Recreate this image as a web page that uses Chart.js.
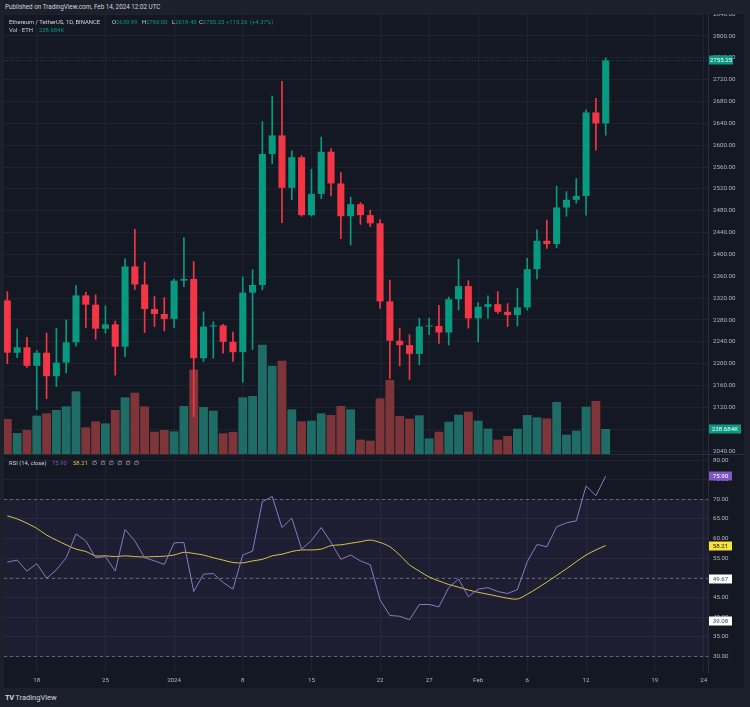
<!DOCTYPE html>
<html>
<head>
<meta charset="utf-8">
<script src="https://cdn.jsdelivr.net/npm/chart.js@4.4.1/dist/chart.umd.min.js"></script>
<style>
  html, body { margin: 0; padding: 0; width: 750px; height: 707px; overflow: hidden; background: #1c202b; font-family: Roboto, "DejaVu Sans", sans-serif; }
  #frame { position: absolute; left: 4px; top: 14px; width: 740px; height: 674px; background: #141823; }
  #priceChart { position: absolute; left: 0; top: 0; }
  #rsiChart { position: absolute; left: 0; top: 440px; }
  .t { position: absolute; white-space: nowrap; font-size: 5.9px; line-height: 8px; color: #d1d4dc; }
  .g { color: #089981; }
  .p { color: #7e57c2; }
  .y { color: #e0c940; }
</style>
</head>
<body>
<div class="t" style="left:5px;top:3px;font-size:6.3px;">Published on TradingView.com, Feb 14, 2024 12:02 UTC</div>
<div id="frame">
  <canvas id="priceChart" width="740" height="440"></canvas>
  <canvas id="rsiChart" width="740" height="234"></canvas>
</div>
<div class="t" style="left:9px;top:18px;">Ethereum / TetherUS, 1D, BINANCE</div>
<div class="t" style="left:112px;top:18px;">O<span class="g">2639.99</span></div>
<div class="t" style="left:142px;top:18px;">H<span class="g">2760.00</span></div>
<div class="t" style="left:172px;top:18px;">L<span class="g">2618.40</span></div>
<div class="t" style="left:199px;top:18px;">C<span class="g">2755.25</span></div>
<div class="t g" style="left:226px;top:18px;">+115.26</div>
<div class="t g" style="left:250px;top:18px;">(+4.37%)</div>
<div class="t" style="left:9px;top:26px;">Vol · ETH</div>
<div class="t g" style="left:39px;top:26px;">238.684K</div>
<div class="t" style="left:9px;top:459px;">RSI (14, close)</div>
<div class="t p" style="left:52px;top:459px;">75.90</div>
<div class="t y" style="left:73px;top:459px;">58.21</div>
<div class="t" style="left:92px;top:459px;word-spacing:1.8px;">∅ ∅ ∅ ∅ ∅ ∅</div>
<div class="t" style="left:5px;top:693px;font-size:7.5px;line-height:9px;"><b style="letter-spacing:-0.5px;">TV</b> TradingView</div>

<script>
// daily candles, Dec 15 2023 .. Feb 14 2024
const dates = ['Dec 15','Dec 16','Dec 17','Dec 18','Dec 19','Dec 20','Dec 21','Dec 22','Dec 23','Dec 24',
  'Dec 25','Dec 26','Dec 27','Dec 28','Dec 29','Dec 30','Dec 31','Jan 1','Jan 2','Jan 3',
  'Jan 4','Jan 5','Jan 6','Jan 7','Jan 8','Jan 9','Jan 10','Jan 11','Jan 12','Jan 13',
  'Jan 14','Jan 15','Jan 16','Jan 17','Jan 18','Jan 19','Jan 20','Jan 21','Jan 22','Jan 23',
  'Jan 24','Jan 25','Jan 26','Jan 27','Jan 28','Jan 29','Jan 30','Jan 31','Feb 1','Feb 2',
  'Feb 3','Feb 4','Feb 5','Feb 6','Feb 7','Feb 8','Feb 9','Feb 10','Feb 11','Feb 12',
  'Feb 13','Feb 14'];

const open = [2316,2220,2230,2196,2220,2177,2202,2239,2325,2308,
  2264,2272,2231,2378,2345,2300,2291,2282,2352,2355,
  2210,2268,2270,2240,2221,2330,2344,2584,2618,2522,
  2578,2472,2511,2588,2530,2470,2492,2472,2457,2314,
  2242,2234,2218,2268,2269,2257,2318,2342,2283,2304,
  2309,2295,2289,2303,2373,2425,2419,2486,2500,2507,
  2660,2639.99];
const high = [2332,2264,2248,2224,2256,2265,2280,2343,2331,2326,
  2306,2278,2392,2446,2386,2323,2321,2355,2431,2387,
  2295,2277,2272,2258,2359,2372,2643,2690,2717,2590,
  2581,2556,2615,2594,2550,2505,2495,2481,2464,2353,
  2265,2253,2283,2283,2307,2322,2391,2352,2312,2324,
  2332,2310,2338,2393,2445,2463,2525,2515,2539,2665,
  2686,2760];
const low = [2200,2211,2193,2116,2136,2158,2183,2232,2266,2245,
  2256,2179,2213,2336,2257,2268,2260,2266,2341,2103,
  2204,2210,2219,2204,2166,2226,2335,2566,2458,2500,
  2470,2470,2502,2507,2429,2417,2455,2451,2301,2173,
  2196,2171,2198,2253,2237,2234,2298,2265,2240,2283,
  2292,2268,2269,2298,2355,2411,2412,2470,2494,2472,
  2591,2618.4];
const close = [2220,2230,2196,2220,2177,2202,2239,2325,2308,2264,
  2272,2231,2378,2345,2300,2291,2282,2352,2355,2210,
  2268,2270,2240,2221,2330,2344,2584,2618,2522,2578,
  2472,2511,2588,2530,2470,2492,2472,2457,2314,2242,
  2234,2218,2268,2269,2257,2318,2342,2283,2304,2309,
  2295,2289,2303,2373,2425,2419,2486,2500,2507,2660,
  2640,2755.25];
// volume in thousands of ETH
const volume = [334,200,229,366,388,420,455,598,254,311,
  292,420,541,585,455,213,229,216,458,805,
  449,414,197,210,541,554,1044,843,891,426,
  311,318,388,372,458,426,137,127,531,707,
  363,337,369,149,213,308,375,404,318,242,
  137,172,242,372,350,340,497,184,223,452,
  506,238.684];
const rsi = [54.0,54.5,51.7,53.6,49.9,52.0,55.1,61.2,59.4,55.1,
  55.4,51.7,62.3,59.4,55.1,54.3,53.4,58.9,59.0,46.5,
  50.9,51.1,48.8,47.1,55.8,56.8,69.4,70.7,62.8,65.2,
  57.3,59.5,62.8,59.0,54.7,55.8,54.3,53.3,44.4,40.4,
  40.2,39.3,43.2,43.2,42.6,47.5,49.7,45.2,47.1,47.5,
  46.5,46.0,47.0,54.1,58.5,57.9,63.0,64.0,64.5,73.4,
  70.9,75.9];
const rsiMa = [65.8,65.0,63.9,62.6,60.9,59.6,58.4,57.3,56.7,55.6,
  55.6,55.4,55.6,55.4,55.3,55.4,55.5,55.8,56.5,56.2,
  55.8,55.1,54.5,53.9,53.8,54.3,54.7,55.6,56.0,56.7,
  57.1,57.1,57.3,58.2,58.4,58.8,59.2,59.6,59.0,57.9,
  55.8,53.3,51.7,50.2,49.2,48.3,47.6,46.9,46.3,45.8,
  45.3,44.8,44.6,45.8,47.3,48.9,50.6,52.3,54.1,55.8,
  57.1,58.21];

// x axis labels (day index from Dec 15)
const tickIdx  = [3, 10, 17, 24, 31, 38, 43, 48, 53, 59, 66, 71];
const tickText = ['18', '25', '2024', '8', '15', '22', '27', 'Feb', '6', '12', '19', '24'];
const priceTicks = [2040,2080,2120,2160,2200,2240,2280,2320,2360,2400,2440,2480,2520,2560,2600,2640,2680,2720,2760,2800,2840];
const rsiTicks = [30,35,40,45,50,55,60,65,70,75,80];
const rsiMarks = [49.67, 39.08];

const UP = '#089981', DOWN = '#f23645';
const VOL_UP = '#1f6b65', VOL_DOWN = '#7e3539';
const GRID = '#1f2331', BORDER = '#2a2e39', TXT = '#b2b5be';
const FONT = { family: 'Roboto', size: 6.2 };

const isUp = close.map((c, i) => c >= open[i]);
const last = close.length - 1;

const xScale = {
  type: 'linear', min: -0.34, max: 71.43, offset: false,
  grid: { color: GRID, drawTicks: false, offset: false },
  border: { display: false },
  afterBuildTicks: s => { s.ticks = tickIdx.map(v => ({ value: v })); }
};

function tag(ctx, x, y, w, text, bg, fg) {
  ctx.save();
  ctx.fillStyle = bg;
  ctx.fillRect(x, Math.round(y) - 4.5, w, 9);
  ctx.fillStyle = fg;
  ctx.font = '6.2px Roboto';
  ctx.textAlign = 'center';
  ctx.textBaseline = 'middle';
  ctx.fillText(text, x + w / 2, Math.round(y) + 0.5);
  ctx.restore();
}

const pricePanel = {
  id: 'pricePanel',
  beforeDatasetsDraw(chart) {
    const { ctx, chartArea: a, scales } = chart;
    const y = Math.round(scales.y.getPixelForValue(close[last])) + 0.5;
    ctx.save();
    ctx.strokeStyle = 'rgba(8,153,129,0.5)';
    ctx.setLineDash([1, 2]);
    ctx.beginPath();
    ctx.moveTo(a.left, y);
    ctx.lineTo(a.right, y);
    ctx.stroke();
    ctx.restore();
  },
  afterDraw(chart) {
    const { ctx, chartArea: a, scales } = chart;
    tag(ctx, a.right + 1, scales.y.getPixelForValue(close[last]), 24, close[last].toFixed(2), UP, '#ffffff');
    tag(ctx, a.right + 1, scales.v.getPixelForValue(volume[last]), 32, volume[last].toFixed(3) + 'K', UP, '#ffffff');
  }
};

new Chart(document.getElementById('priceChart'), {
  type: 'bar',
  data: {
    datasets: [{
      label: 'body',
      data: open.map((o, i) => ({ x: i, y: [o, close[i]] })),
      backgroundColor: isUp.map(u => u ? UP : DOWN),
      grouped: false,
      categoryPercentage: 1,
      barPercentage: 0.72,
      minBarLength: 1,
      yAxisID: 'y',
      order: 1
    }, {
      label: 'wick',
      data: low.map((l, i) => ({ x: i, y: [l, high[i]] })),
      backgroundColor: isUp.map(u => u ? UP : DOWN),
      grouped: false,
      barThickness: 1,
      yAxisID: 'y',
      order: 2
    }, {
      label: 'volume',
      data: volume.map((v, i) => ({ x: i, y: v })),
      backgroundColor: isUp.map(u => u ? VOL_UP : VOL_DOWN),
      grouped: false,
      categoryPercentage: 1,
      barPercentage: 0.9,
      yAxisID: 'v',
      order: 3
    }]
  },
  options: {
    responsive: false,
    animation: false,
    devicePixelRatio: 1,
    layout: { padding: 0 },
    plugins: { legend: { display: false }, tooltip: { enabled: false } },
    scales: {
      x: Object.assign({}, xScale, {
        ticks: { display: false },
        afterFit: s => { s.height = 0; s.paddingLeft = 0; s.paddingRight = 0; }
      }),
      y: {
        position: 'right',
        min: 2034.58, max: 2840.28,
        grid: { color: GRID, drawTicks: false },
        border: { display: true, color: BORDER },
        ticks: { color: TXT, font: FONT, padding: 5, callback: v => v.toFixed(2) },
        afterBuildTicks: s => { s.ticks = priceTicks.map(v => ({ value: v })); },
        afterFit: s => { s.width = 36; s.paddingTop = 0; s.paddingBottom = 0; }
      },
      v: {
        display: false,
        min: 0, max: 4200
      }
    }
  },
  plugins: [pricePanel]
});

const rsiPanel = {
  id: 'rsiPanel',
  beforeDatasetsDraw(chart) {
    const { ctx, chartArea: a, scales } = chart;
    const y70 = scales.y.getPixelForValue(70), y30 = scales.y.getPixelForValue(30);
    ctx.save();
    ctx.fillStyle = 'rgba(126,87,194,0.1)';
    ctx.fillRect(a.left, y70, a.right - a.left, y30 - y70);
    ctx.strokeStyle = 'rgba(120,123,134,0.75)';
    ctx.setLineDash([3, 3]);
    [70, 50, 30].forEach(v => {
      const y = Math.round(scales.y.getPixelForValue(v)) + 0.5;
      ctx.beginPath();
      ctx.moveTo(a.left, y);
      ctx.lineTo(a.right, y);
      ctx.stroke();
    });
    ctx.restore();
  },
  afterDraw(chart) {
    const { ctx, chartArea: a, scales, width } = chart;
    ctx.save();
    ctx.strokeStyle = BORDER;
    ctx.beginPath();
    ctx.moveTo(0, 0.5);
    ctx.lineTo(width, 0.5);
    ctx.stroke();
    ctx.restore();
    tag(ctx, a.right + 1, scales.y.getPixelForValue(rsi[last]), 23, rsi[last].toFixed(2), '#7e57c2', '#ffffff');
    tag(ctx, a.right + 1, scales.y.getPixelForValue(rsiMa[last]), 23, rsiMa[last].toFixed(2), '#f7e33c', '#131722');
    rsiMarks.forEach(m => tag(ctx, a.right + 1, scales.y.getPixelForValue(m), 23, m.toFixed(2), '#ffffff', '#434651'));
  }
};

new Chart(document.getElementById('rsiChart'), {
  type: 'line',
  data: {
    datasets: [{
      label: 'RSI',
      data: rsi.map((r, i) => ({ x: i, y: r })),
      borderColor: '#8a78c4',
      borderWidth: 1,
      pointRadius: 0,
      tension: 0
    }, {
      label: 'RSI-based MA',
      data: rsiMa.map((r, i) => ({ x: i, y: r })),
      borderColor: '#d9c444',
      borderWidth: 1,
      pointRadius: 0,
      tension: 0.3
    }]
  },
  options: {
    responsive: false,
    animation: false,
    devicePixelRatio: 1,
    layout: { padding: 0 },
    plugins: { legend: { display: false }, tooltip: { enabled: false } },
    scales: {
      x: Object.assign({}, xScale, {
        ticks: {
          color: TXT, font: FONT, padding: 5, autoSkip: false, maxRotation: 0,
          callback: v => { const k = tickIdx.indexOf(v); return k < 0 ? '' : tickText[k]; }
        },
        afterFit: s => { s.height = 16; s.paddingLeft = 0; s.paddingRight = 0; }
      }),
      y: {
        position: 'right',
        min: 26.0, max: 81.54,
        grid: { color: GRID, drawTicks: false },
        border: { display: true, color: BORDER },
        ticks: { color: TXT, font: FONT, padding: 5, callback: v => v.toFixed(2) },
        afterBuildTicks: s => { s.ticks = rsiTicks.map(v => ({ value: v })); },
        afterFit: s => { s.width = 36; s.paddingTop = 0; s.paddingBottom = 0; }
      }
    }
  },
  plugins: [rsiPanel]
});
</script>
</body>
</html>
